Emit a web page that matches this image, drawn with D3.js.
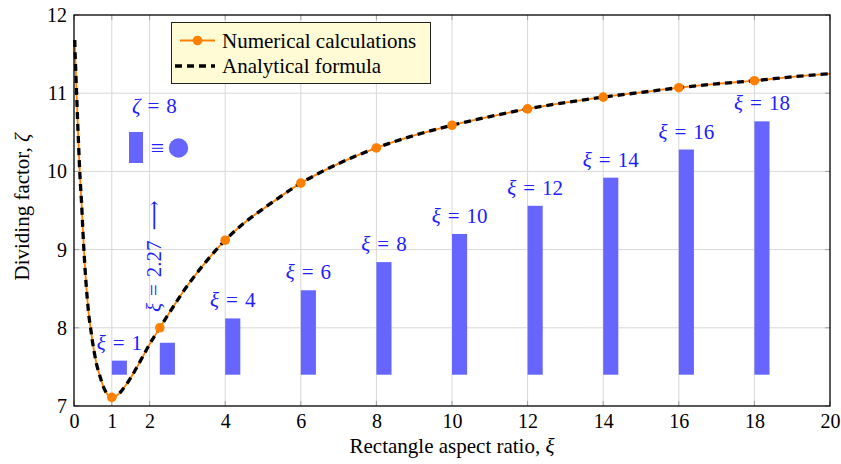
<!DOCTYPE html>
<html>
<head>
<meta charset="utf-8">
<script src="https://cdn.jsdelivr.net/npm/d3@7/dist/d3.min.js"></script>
<style>
body { margin: 0; background: #fff; }
svg text { font-family: "Liberation Serif", "DejaVu Serif", serif; }
</style>
</head>
<body>
<script>
// analytical curve
var curveXi   = [0.02, 0.03, 0.04, 0.05, 0.0625, 0.075, 0.09, 0.1, 0.125, 0.15, 0.175, 0.2, 0.25, 0.3, 0.35, 0.4, 0.45, 0.5,
                 0.6, 0.7, 0.8, 0.9, 1, 1.15, 1.3, 1.5, 1.75, 2, 2.27, 2.6, 3, 3.5, 4, 4.5, 5, 5.5, 6, 7, 8, 9, 10,
                 11, 12, 13, 14, 15, 16, 17, 18, 19, 20];
var curveZeta = [11.68, 11.5, 11.37, 11.25, 11.07, 10.92, 10.72, 10.59, 10.3, 10.02, 9.8, 9.6, 9.1, 8.7, 8.38, 8.13, 7.96, 7.79,
                 7.53, 7.36, 7.22, 7.14, 7.11, 7.14, 7.22, 7.36, 7.57, 7.79, 8.0, 8.25, 8.54, 8.85, 9.12, 9.34, 9.52, 9.69, 9.85, 10.1, 10.3, 10.46, 10.59,
                 10.7, 10.8, 10.88, 10.95, 11.01, 11.07, 11.12, 11.16, 11.21, 11.25];

// numerical calculation points
var markerXi   = [1, 2.27, 4, 6, 8, 10, 12, 14, 16, 18];
var markerZeta = [7.11, 8.0, 9.12, 9.85, 10.3, 10.59, 10.8, 10.95, 11.07, 11.16];

// rectangle sketches
var shapeXi     = [1, 2.27, 4, 6, 8, 10, 12, 14, 16, 18];
var shapeLabels = ["1", "2.27", "4", "6", "8", "10", "12", "14", "16", "18"];

var xTicks = [0, 1, 2, 4, 6, 8, 10, 12, 14, 16, 18, 20];
var yTicks = [7, 8, 9, 10, 11, 12];

var W = 841, H = 464;
var pLeft = 74, pRight = 830, pTop = 15, pBottom = 406;
var orange = "#ff8000", shapeBlue = "#6666ff", textBlue = "#2020ff";
var serif = "'Liberation Serif', 'DejaVu Serif', serif";

var svg = d3.select("body").append("svg")
    .attr("width", W).attr("height", H)
    .attr("font-family", serif);

var x = d3.scaleLinear().domain([0, 20]).range([pLeft, pRight]);
var y = d3.scaleLinear().domain([7, 12]).range([pBottom, pTop]);

// "sym = value" in math style
function mathLabel(sel, sym, val) {
    sel.append("tspan").attr("font-style", "italic").text(sym);
    sel.append("tspan").attr("dx", 7).text("=");
    sel.append("tspan").attr("dx", 7).text(val);
}

// grid
svg.append("g").selectAll("line")
    .data(xTicks.filter(function(d) { return d > 0 && d < 20; }))
    .enter().append("line")
    .attr("x1", function(d) { return x(d); }).attr("x2", function(d) { return x(d); })
    .attr("y1", pTop).attr("y2", pBottom)
    .attr("stroke", "#d8d8d8").attr("stroke-width", 1);
svg.append("g").selectAll("line")
    .data(yTicks.filter(function(d) { return d > 7 && d < 12; }))
    .enter().append("line")
    .attr("y1", function(d) { return y(d); }).attr("y2", function(d) { return y(d); })
    .attr("x1", pLeft).attr("x2", pRight)
    .attr("stroke", "#d8d8d8").attr("stroke-width", 1);

// small inner ticks
var tk = svg.append("g").attr("stroke", "#a0a0a0").attr("stroke-width", 1);
xTicks.forEach(function(d) {
    tk.append("line").attr("x1", x(d)).attr("x2", x(d)).attr("y1", pBottom).attr("y2", pBottom - 5);
    tk.append("line").attr("x1", x(d)).attr("x2", x(d)).attr("y1", pTop).attr("y2", pTop + 5);
});
yTicks.forEach(function(d) {
    tk.append("line").attr("y1", y(d)).attr("y2", y(d)).attr("x1", pLeft).attr("x2", pLeft + 5);
    tk.append("line").attr("y1", y(d)).attr("y2", y(d)).attr("x1", pRight).attr("x2", pRight - 5);
});

// tick labels via d3 axes
var xAxis = svg.append("g").attr("transform", "translate(0," + pBottom + ")")
    .call(d3.axisBottom(x).tickValues(xTicks).tickSize(0).tickPadding(8).tickFormat(d3.format("d")));
var yAxis = svg.append("g").attr("transform", "translate(" + pLeft + ",0)")
    .call(d3.axisLeft(y).tickValues(yTicks).tickSize(0).tickPadding(7).tickFormat(d3.format("d")));
[xAxis, yAxis].forEach(function(a) {
    a.select(".domain").remove();
    a.attr("font-family", serif).attr("font-size", 20);
    a.selectAll("text").attr("fill", "#000");
});

// rectangle sketches (width 0.4 in xi, height 0.18*xi in zeta, base at 7.4)
var bars = svg.append("g");
bars.selectAll("rect")
    .data(shapeXi)
    .enter().append("rect")
    .attr("x", function(d) { return x(d); })
    .attr("width", x(0.4) - x(0))
    .attr("y", function(d) { return y(7.4 + 0.18 * d); })
    .attr("height", function(d) { return y(7.4) - y(7.4 + 0.18 * d); })
    .attr("fill", shapeBlue);

bars.selectAll("text.lab")
    .data(shapeXi.map(function(d, i) { return { xi: d, lab: shapeLabels[i] }; })
        .filter(function(d) { return d.xi !== 2.27; }))
    .enter().append("text")
    .attr("class", "lab")
    .attr("x", function(d) { return x(d.xi + 0.2); })
    .attr("y", function(d) { return y(7.4 + 0.18 * d.xi) - 11; })
    .attr("text-anchor", "middle")
    .attr("font-size", 21)
    .attr("fill", textBlue)
    .each(function(d) { mathLabel(d3.select(this), "ξ", d.lab); });

// rotated label for 2.27
var rot = svg.append("text")
    .attr("transform", "translate(161,312) rotate(-90)")
    .attr("font-size", 21)
    .attr("fill", textBlue);
mathLabel(rot, "ξ", shapeLabels[1]);
rot.append("tspan").attr("dx", 10).text("⟶");

// zeta = 8 inset
var zl = svg.append("text")
    .attr("x", 132).attr("y", 113)
    .attr("font-size", 21).attr("fill", textBlue);
mathLabel(zl, "ζ", "8");
svg.append("rect").attr("x", 129).attr("y", 132).attr("width", 14).attr("height", 31).attr("fill", shapeBlue);
svg.append("text").attr("x", 157.5).attr("y", 156).attr("text-anchor", "middle")
    .attr("font-size", 24).attr("fill", textBlue).text("≡");
svg.append("circle").attr("cx", 178.5).attr("cy", 148).attr("r", 9.7).attr("fill", shapeBlue);

// curves
var pts = curveXi.map(function(d, i) { return [d, curveZeta[i]]; });
var line = d3.line()
    .x(function(d) { return x(d[0]); })
    .y(function(d) { return y(d[1]); })
    .curve(d3.curveCatmullRom.alpha(0.5));

svg.append("path").datum(pts)
    .attr("d", line).attr("fill", "none")
    .attr("stroke", orange).attr("stroke-width", 1.8);
svg.append("path").datum(pts)
    .attr("d", line).attr("fill", "none")
    .attr("stroke", "#000").attr("stroke-width", 3.3)
    .attr("stroke-dasharray", "7,5");

svg.append("g").selectAll("circle")
    .data(markerXi)
    .enter().append("circle")
    .attr("cx", function(d) { return x(d); })
    .attr("cy", function(d, i) { return y(markerZeta[i]); })
    .attr("r", 4.8)
    .attr("fill", orange);

// frame
svg.append("rect")
    .attr("x", pLeft).attr("y", pTop)
    .attr("width", pRight - pLeft).attr("height", pBottom - pTop)
    .attr("fill", "none").attr("stroke", "#000").attr("stroke-width", 1.3);

// legend
var lg = svg.append("g");
lg.append("rect").attr("x", 171.5).attr("y", 22.5).attr("width", 259).attr("height", 61)
    .attr("fill", "#fffbd4").attr("stroke", "#222").attr("stroke-width", 1);
lg.append("line").attr("x1", 180).attr("x2", 215).attr("y1", 40.5).attr("y2", 40.5)
    .attr("stroke", orange).attr("stroke-width", 1.8);
lg.append("circle").attr("cx", 197.5).attr("cy", 40.5).attr("r", 4.8).attr("fill", orange);
lg.append("line").attr("x1", 175).attr("x2", 215).attr("y1", 66).attr("y2", 66)
    .attr("stroke", "#000").attr("stroke-width", 3.3).attr("stroke-dasharray", "7,5");
lg.append("text").attr("x", 222).attr("y", 47.5).attr("font-size", 21).text("Numerical calculations");
lg.append("text").attr("x", 222).attr("y", 73).attr("font-size", 21).text("Analytical formula");

// axis titles
var xt = svg.append("text")
    .attr("x", (pLeft + pRight) / 2).attr("y", 453)
    .attr("text-anchor", "middle").attr("font-size", 21);
xt.append("tspan").text("Rectangle aspect ratio, ");
xt.append("tspan").attr("font-style", "italic").text("ξ");
var yt = svg.append("text")
    .attr("transform", "translate(29,207) rotate(-90)")
    .attr("text-anchor", "middle").attr("font-size", 21);
yt.append("tspan").text("Dividing factor, ");
yt.append("tspan").attr("font-style", "italic").text("ζ");
</script>
</body>
</html>
